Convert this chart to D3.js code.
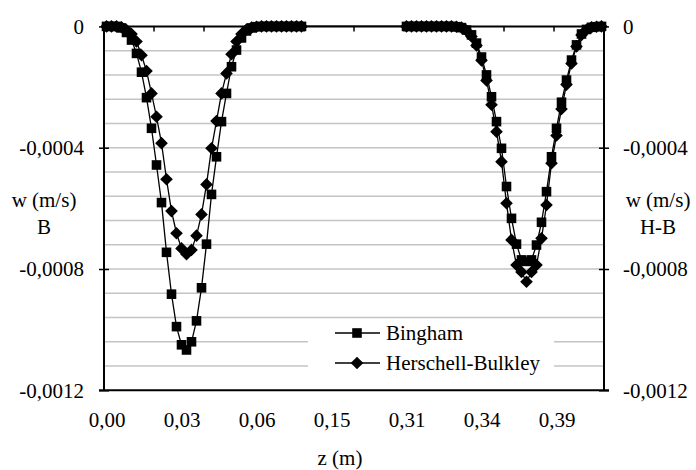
<!DOCTYPE html>
<html>
<head>
<meta charset="utf-8">
<script src="https://cdn.jsdelivr.net/npm/d3@7"></script>
<style>
  body { margin: 0; background: #fff; }
  text { font-family: "Liberation Serif", "Times New Roman", serif; font-size: 21px; fill: #000; }
</style>
</head>
<body>
<div id="chart"></div>
<script>
// z positions (m), one per category
const zValues = [
  0.000, 0.002, 0.004, 0.006, 0.008, 0.010, 0.012, 0.014, 0.016, 0.018,
  0.020, 0.022, 0.024, 0.026, 0.028, 0.030, 0.032, 0.034, 0.036, 0.038,
  0.040, 0.042, 0.044, 0.046, 0.048, 0.050, 0.052, 0.054, 0.056, 0.058,
  0.060, 0.062, 0.064, 0.066, 0.068, 0.070, 0.072, 0.074, 0.076, 0.078,
  0.080, 0.090, 0.100, 0.115, 0.130, 0.150, 0.160, 0.170, 0.180, 0.190,
  0.200, 0.210, 0.220, 0.230, 0.240, 0.250, 0.260, 0.270, 0.280, 0.295,
  0.310, 0.312, 0.314, 0.316, 0.318, 0.320, 0.322, 0.324, 0.326, 0.328,
  0.330, 0.332, 0.334, 0.336, 0.338, 0.340, 0.343, 0.347, 0.350, 0.353,
  0.357, 0.360, 0.363, 0.367, 0.370, 0.373, 0.377, 0.380, 0.383, 0.387,
  0.390, 0.393, 0.397, 0.400, 0.403, 0.407, 0.410, 0.413, 0.417, 0.420
]

// w (m/s), null = no value
const bingham = [
  0, 0, 0, -0.05e-4, -0.2e-4, -0.45e-4, -0.89e-4, -1.51e-4, -2.35e-4, -3.36e-4,
  -4.57e-4, -5.81e-4, -7.45e-4, -8.83e-4, -9.90e-4, -10.50e-4, -10.67e-4, -10.40e-4, -9.71e-4, -8.62e-4,
  -7.18e-4, -5.54e-4, -4.30e-4, -3.14e-4, -2.21e-4, -1.33e-4, -0.78e-4, -0.38e-4, -0.15e-4, -0.05e-4,
  -0.01e-4, 0, 0, 0, 0, 0, 0, 0, 0, 0,
  null, null, null, null, null, null, null, null, null, null,
  null, null, null, null, null, null, null, null, null, null,
  0, 0, 0, 0, 0, 0, 0, 0, 0, 0,
  -0.01e-4, -0.04e-4, -0.12e-4, -0.28e-4, -0.55e-4, -1.01e-4, -1.60e-4, -2.32e-4, -3.14e-4, -4.02e-4,
  -5.28e-4, -6.33e-4, -7.18e-4, -7.70e-4, -7.75e-4, -7.70e-4, -7.21e-4, -6.46e-4, -5.45e-4, -4.30e-4,
  -3.36e-4, -2.50e-4, -1.77e-4, -1.11e-4, -0.61e-4, -0.25e-4, -0.10e-4, -0.03e-4, -0.01e-4, 0
]

const herschel = [
  0, 0, 0, -0.03e-4, -0.12e-4, -0.25e-4, -0.50e-4, -0.95e-4, -1.47e-4, -2.21e-4,
  -2.98e-4, -3.85e-4, -5.04e-4, -6.09e-4, -6.82e-4, -7.32e-4, -7.51e-4, -7.37e-4, -6.90e-4, -6.20e-4,
  -5.21e-4, -4.02e-4, -3.12e-4, -2.21e-4, -1.55e-4, -0.92e-4, -0.50e-4, -0.25e-4, -0.10e-4, -0.04e-4,
  -0.01e-4, 0, 0, 0, 0, 0, 0, 0, 0, 0,
  null, null, null, null, null, null, null, null, null, null,
  null, null, null, null, null, null, null, null, null, null,
  0, 0, 0, 0, 0, 0, 0, 0, 0, 0,
  -0.01e-4, -0.04e-4, -0.14e-4, -0.33e-4, -0.63e-4, -1.12e-4, -1.78e-4, -2.58e-4, -3.47e-4, -4.46e-4,
  -5.83e-4, -7.04e-4, -7.87e-4, -8.10e-4, -8.42e-4, -8.10e-4, -7.87e-4, -6.99e-4, -5.89e-4, -4.51e-4,
  -3.60e-4, -2.72e-4, -1.92e-4, -1.22e-4, -0.66e-4, -0.28e-4, -0.11e-4, -0.03e-4, -0.01e-4, 0
]

const seriesNames = ["Bingham", "Herschell-Bulkley"]
const yTicks = [0, -0.0004, -0.0008, -0.0012]
const labelEvery = 15
const tickEvery = 10

const width = 696, height = 470
const plot = { left: 104, right: 604, top: 26.4, bottom: 390.3 }

const svg = d3.select("#chart").append("svg")
  .attr("width", width)
  .attr("height", height)
  .attr("font-family", "'Liberation Serif', 'Times New Roman', serif")

const idx = d3.range(zValues.length)

// categories sit between tick marks, like a spreadsheet category axis
const xBand = d3.scaleBand()
  .domain(idx)
  .range([plot.left, plot.right])
const xc = i => xBand(i) + xBand.bandwidth() / 2

const yScale = d3.scaleLinear()
  .domain([-0.0012, 0])
  .range([plot.bottom, plot.top])

const fmtY = d => d === 0 ? "0" : d.toFixed(4).replace(".", ",")
const fmtZ = d => d.toFixed(2).replace(".", ",")

// minor gridlines
const gridVals = d3.range(1, 15).map(k => -k * 0.00008)
svg.append("g")
  .selectAll("line")
  .data(gridVals)
  .join("line")
  .attr("x1", plot.left).attr("x2", plot.right)
  .attr("y1", d => yScale(d)).attr("y2", d => yScale(d))
  .attr("stroke", "#c4c4c4")
  .attr("stroke-width", 1.5)

// bottom border
svg.append("line")
  .attr("x1", plot.left - 5).attr("x2", plot.right + 5)
  .attr("y1", plot.bottom).attr("y2", plot.bottom)
  .attr("stroke", "#000").attr("stroke-width", 2)

// y axes (left + right)
function yAxis(g, side) {
  const axis = (side === "left" ? d3.axisLeft(yScale) : d3.axisRight(yScale))
    .tickValues(yTicks)
    .tickFormat(fmtY)
    .tickSize(5)
    .tickPadding(side === "left" ? 15 : 14)
  g.call(axis)
  g.select(".domain").remove()
  g.selectAll(".tick line").attr("x1", side === "left" ? 5 : -5).attr("stroke-width", 1.5)
  g.selectAll(".tick text").attr("font-size", null)
  g.attr("font-family", null).attr("font-size", null)
  g.append("line")
    .attr("y1", plot.top).attr("y2", plot.bottom)
    .attr("stroke", "#000").attr("stroke-width", 2)
}
svg.append("g").attr("transform", `translate(${plot.left},0)`).call(yAxis, "left")
svg.append("g").attr("transform", `translate(${plot.right},0)`).call(yAxis, "right")

// category axis at w = 0, tick marks every 10 categories
const tickPos = idx.filter(i => i % tickEvery === 0 && i > 0).map(i => xBand(i))
svg.append("g")
  .attr("transform", `translate(0,${yScale(0)})`)
  .call(g => g.append("line")
    .attr("x1", plot.left).attr("x2", plot.right)
    .attr("stroke", "#000").attr("stroke-width", 2))
  .call(g => g.selectAll("line.tk")
    .data(tickPos)
    .join("line")
    .attr("class", "tk")
    .attr("x1", d => d).attr("x2", d => d)
    .attr("y1", 0).attr("y2", 5)
    .attr("stroke", "#000").attr("stroke-width", 1.5))

// category labels below the plot
const xLabelAxis = d3.axisBottom(d3.scalePoint().domain(idx).range([xc(0), xc(idx.length - 1)]))
  .tickValues(idx.filter(i => i % labelEvery === 0))
  .tickSize(0)
  .tickPadding(22)
  .tickFormat(i => fmtZ(zValues[i]))
svg.append("g")
  .attr("transform", `translate(0,${plot.bottom})`)
  .call(xLabelAxis)
  .call(g => g.select(".domain").remove())
  .call(g => g.attr("font-family", null).attr("font-size", null))

// axis titles
svg.append("text").attr("x", 340).attr("y", 465).attr("text-anchor", "middle").text("z (m)")
svg.append("text").attr("x", 44).attr("y", 207).attr("text-anchor", "middle").text("w (m/s)")
svg.append("text").attr("x", 44).attr("y", 234).attr("text-anchor", "middle").text("B")
svg.append("text").attr("x", 658).attr("y", 207).attr("text-anchor", "middle").text("w (m/s)")
svg.append("text").attr("x", 658).attr("y", 234).attr("text-anchor", "middle").text("H-B")

// markers
const square = d3.symbol().type(d3.symbolSquare).size(92)
const diamondPath = r => `M0,${-r}L${r},0L0,${r}L${-r},0Z`
const markerFor = [g => g.append("path").attr("d", square()),
                   g => g.append("path").attr("d", diamondPath(6.3))]

const line = d3.line()
  .x(d => xc(d.i))
  .y(d => yScale(d.v))

;[bingham, herschel].forEach((vals, s) => {
  const pts = vals.map((v, i) => ({ i, v })).filter(d => d.v !== null)
  const g = svg.append("g")
  g.append("path")
    .datum(pts)
    .attr("d", line)
    .attr("fill", "none")
    .attr("stroke", "#000")
    .attr("stroke-width", 1.3)
  g.selectAll("g.m")
    .data(pts)
    .join("g")
    .attr("class", "m")
    .attr("transform", d => `translate(${xc(d.i)},${yScale(d.v)})`)
    .each(function() { markerFor[s](d3.select(this)) })
    .attr("fill", "#000")
})

// legend
const legend = svg.append("g")
legend.append("rect")
  .attr("x", 308).attr("y", 321).attr("width", 246).attr("height", 58)
  .attr("fill", "#fff")
seriesNames.forEach((name, s) => {
  const cy = 333 + s * 30
  legend.append("line")
    .attr("x1", 335).attr("x2", 380).attr("y1", cy).attr("y2", cy)
    .attr("stroke", "#000").attr("stroke-width", 1.3)
  const m = legend.append("g").attr("transform", `translate(357,${cy})`).attr("fill", "#000")
  markerFor[s](m)
  legend.append("text").attr("x", 386).attr("y", cy + 7).text(name)
})
</script>
</body>
</html>
